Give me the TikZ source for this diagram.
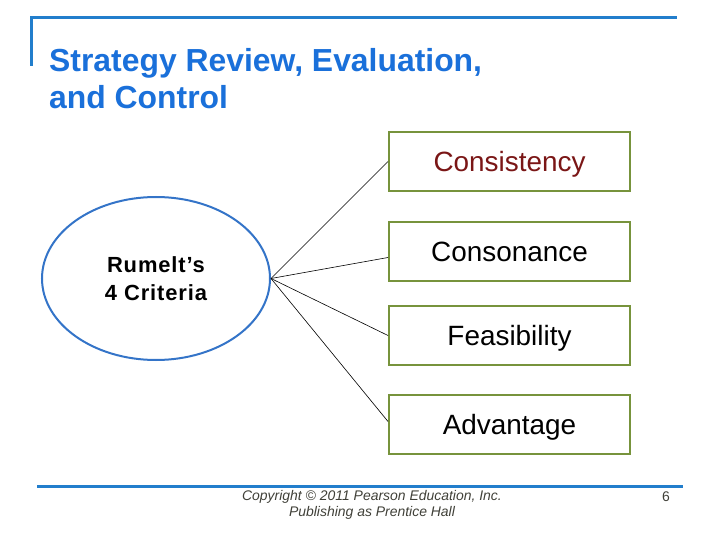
\documentclass[tikz,border=0pt]{standalone}
\usepackage{fontspec}
\setmainfont{Liberation Sans}
\newfontfamily\rumfont[LetterSpace=4]{Liberation Sans}
\usetikzlibrary{shapes.geometric,positioning}
\definecolor{barblue}{RGB}{34,126,204}
\definecolor{titleblue}{RGB}{26,112,218}
\definecolor{ovalblue}{RGB}{52,116,200}
\definecolor{boxgreen}{RGB}{119,147,60}
\definecolor{critred}{RGB}{122,22,22}
\definecolor{footgray}{RGB}{64,64,56}

\begin{document}
\begin{tikzpicture}[
  x=1bp, y=-1bp,
  bar/.style={line width=3bp, draw=barblue},
  heading/.style={anchor=base west, inner sep=0pt, text=titleblue,
                  font=\fontsize{32}{36}\selectfont\bfseries},
  crit/.style={rectangle, draw=boxgreen, line width=2bp, minimum width=241bp,
               minimum height=59bp, inner sep=0pt, text height=20bp, text depth=0pt,
               font=\fontsize{28}{32}\selectfont},
  oval/.style={ellipse, draw=ovalblue, line width=2bp, minimum width=228bp,
               minimum height=163bp, inner sep=0pt, align=center,
               font=\fontsize{22}{28}\selectfont\rumfont\bfseries},
  link/.style={line width=0.6bp, draw=black},
  foot/.style={text=footgray, align=center, inner sep=0pt,
               font=\fontsize{14}{16}\selectfont\itshape},
]
\useasboundingbox (0,0) rectangle (720,540);

%% Frame bars
\draw[bar] (31,66) -- (31,18) -- (677,18);
\draw[bar] (37,486) -- (683,486);

%% Title
\node[heading] (ttl1) at (49,72)  {Strategy Review, Evaluation,};
\node[heading] (ttl2) at (49,109) {and Control};

%% Oval and criteria boxes
\node[oval] (rum) at (156,278.5) {Rumelt’s\\4 Criteria};

\node[crit, text=critred] (cons)  at (509.5,161.5) {Consistency};
\node[crit, below=29bp of cons]  (sonan) {Consonance};
\node[crit, below=23bp of sonan] (feas)  {Feasibility};
\node[crit, below=28bp of feas]  (adv)   {Advantage};

%% Connectors
\draw[link] (rum.east) -- (cons.west);
\draw[link] (rum.east) -- ([yshift=-6bp]sonan.west);
\draw[link] (rum.east) -- (feas.west);
\draw[link] (rum.east) -- ([yshift=3bp]adv.west);

%% Footer
\node[foot] (copy) at (372,505) {Copyright \textcopyright{} 2011 Pearson Education, Inc.\\Publishing as Prentice Hall};
\node[foot, font=\fontsize{14}{16}\selectfont\upshape] (page) at (666,497) {6};
\end{tikzpicture}
\end{document}
